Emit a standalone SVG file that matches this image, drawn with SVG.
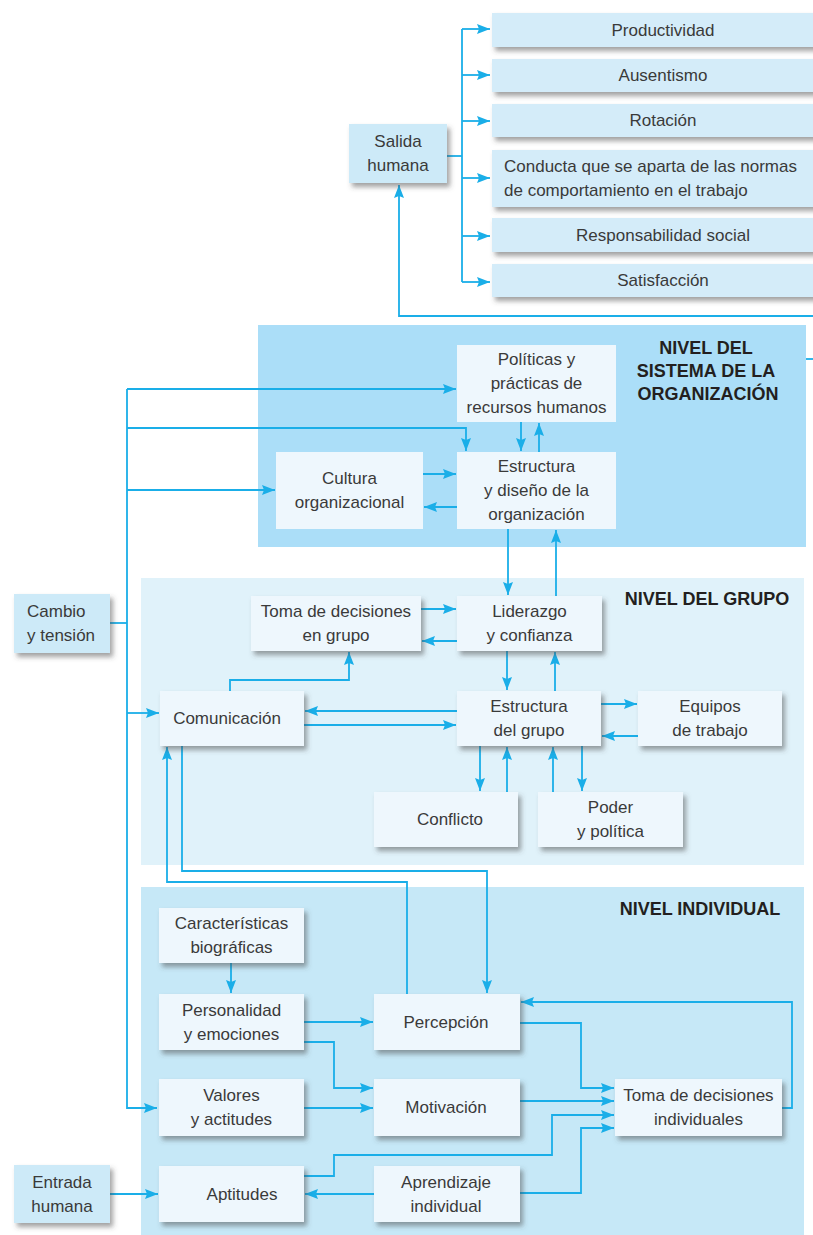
<svg xmlns="http://www.w3.org/2000/svg" width="813" height="1235" viewBox="0 0 813 1235">
<style>
.t{font-family:"Liberation Sans",Arial,sans-serif;font-size:17px;fill:#3a3a3a;text-anchor:middle;dominant-baseline:central}
.tl{text-anchor:start}
.h{font-family:"Liberation Sans",Arial,sans-serif;font-size:18px;font-weight:bold;fill:#231f20;text-anchor:middle;dominant-baseline:central}
.c path,.c line{fill:none;stroke:#1aaee8;stroke-width:1.8}
.a{marker-end:url(#ar)}
.nb{fill:#eef7fd;filter:url(#sh)}
.nf{fill:#eef7fd}
.ob{fill:#d4ecf9;filter:url(#sh)}
.sb{fill:#cdeaf8;filter:url(#sh)}
</style>
<defs>
<marker id="ar" viewBox="0 0 13 10" refX="13" refY="5" markerWidth="13" markerHeight="10" markerUnits="userSpaceOnUse" orient="auto">
<path d="M0,0 L13,5 L0,10 L2,5 Z" fill="#1aaee8"/>
</marker>
<filter id="sh" x="-10%" y="-20%" width="130%" height="160%">
<feDropShadow dx="3" dy="4" stdDeviation="2.5" flood-color="#444" flood-opacity="0.5"/>
</filter>
</defs>
<rect width="813" height="1235" fill="#ffffff"/>

<g id="panels">
<rect x="258" y="325" width="548" height="222" fill="#abdef8"/>
<rect x="141" y="578" width="663" height="287" fill="#e0f2fa"/>
<rect x="141" y="887" width="663" height="348" fill="#c6e8f7"/>
<text class="h" x="706" y="348">NIVEL DEL</text>
<text class="h" x="706" y="371">SISTEMA DE LA</text>
<text class="h" x="708" y="394">ORGANIZACIÓN</text>
<text class="h" x="707" y="599">NIVEL DEL GRUPO</text>
<text class="h" x="700" y="909">NIVEL INDIVIDUAL</text>
</g>

<g class="c" id="connectors">
<line x1="447" y1="156" x2="462" y2="156"/>
<line x1="462" y1="29" x2="462" y2="282"/>
<line class="a" x1="462" y1="29" x2="490" y2="29"/>
<line class="a" x1="462" y1="75" x2="490" y2="75"/>
<line class="a" x1="462" y1="121" x2="490" y2="121"/>
<line class="a" x1="462" y1="178" x2="490" y2="178"/>
<line class="a" x1="462" y1="236" x2="490" y2="236"/>
<line class="a" x1="462" y1="282" x2="490" y2="282"/>
<path class="a" d="M813,316 H399 V185"/>
<line x1="806" y1="359" x2="813" y2="359"/>

<path class="a" d="M127,389 V1108 H157"/>
<line class="a" x1="127" y1="389" x2="456" y2="389"/>
<path class="a" d="M127,428 H466 V451"/>
<line class="a" x1="127" y1="490" x2="275" y2="490"/>
<line class="a" x1="423" y1="474" x2="456" y2="474"/>
<line class="a" x1="457" y1="507" x2="424" y2="507"/>
<line class="a" x1="521" y1="422" x2="521" y2="451"/>
<line class="a" x1="539" y1="452" x2="539" y2="423"/>
<line class="a" x1="508" y1="529" x2="508" y2="595"/>
<line class="a" x1="556" y1="596" x2="556" y2="530"/>

<line x1="110" y1="623" x2="127" y2="623"/>
<line class="a" x1="127" y1="713" x2="159" y2="713"/>
<line class="a" x1="421" y1="609" x2="456" y2="609"/>
<line class="a" x1="457" y1="641" x2="422" y2="641"/>
<path class="a" d="M230,691 V680 H349 V652"/>
<line class="a" x1="457" y1="711" x2="305" y2="711"/>
<line class="a" x1="304" y1="725" x2="456" y2="725"/>
<line class="a" x1="507" y1="651" x2="507" y2="690"/>
<line class="a" x1="555" y1="691" x2="555" y2="652"/>
<line class="a" x1="601" y1="704" x2="637" y2="704"/>
<line class="a" x1="638" y1="736" x2="602" y2="736"/>
<line class="a" x1="480" y1="746" x2="480" y2="791"/>
<line class="a" x1="507" y1="792" x2="507" y2="747"/>
<line class="a" x1="553" y1="792" x2="553" y2="747"/>
<line class="a" x1="582" y1="746" x2="582" y2="791"/>
<path class="a" d="M182,746 V871 H487 V993"/>
<path class="a" d="M407,994 V882 H167 V747"/>

<line class="a" x1="231" y1="963" x2="231" y2="993"/>
<line class="a" x1="304" y1="1022" x2="373" y2="1022"/>
<path class="a" d="M304,1042 H334 V1088 H373"/>
<line class="a" x1="304" y1="1108" x2="373" y2="1108"/>
<line class="a" x1="110" y1="1194" x2="158" y2="1194"/>
<line class="a" x1="374" y1="1194" x2="305" y2="1194"/>
<path class="a" d="M304,1176 H334 V1155 H552 V1115 H614"/>
<path class="a" d="M520,1023 H581 V1088 H614"/>
<line class="a" x1="520" y1="1101" x2="614" y2="1101"/>
<path class="a" d="M520,1193 H581 V1128 H614"/>
<path class="a" d="M782,1108 H792 V1002 H521"/>
</g>

<g id="productividad"><rect class="ob" x="492" y="13" width="342" height="34"/><text class="t" x="663" y="30">Productividad</text></g>
<g id="ausentismo"><rect class="ob" x="492" y="59" width="342" height="33"/><text class="t" x="663" y="75.5">Ausentismo</text></g>
<g id="rotacion"><rect class="ob" x="492" y="104" width="342" height="33"/><text class="t" x="663" y="120.5">Rotación</text></g>
<g id="conducta"><rect class="ob" x="492" y="150" width="342" height="57"/><text class="t tl" x="504" y="166.5">Conducta que se aparta de las normas</text><text class="t tl" x="504" y="190.5">de comportamiento en el trabajo</text></g>
<g id="responsabilidad"><rect class="ob" x="492" y="218" width="342" height="34"/><text class="t" x="663" y="235">Responsabilidad social</text></g>
<g id="satisfaccion"><rect class="ob" x="492" y="264" width="342" height="33"/><text class="t" x="663" y="280.5">Satisfacción</text></g>
<g id="salida"><rect class="sb" x="349" y="124" width="98" height="59"/><text class="t" x="398" y="141.5">Salida</text><text class="t" x="398" y="165.5">humana</text></g>

<g id="politicas"><rect class="nf" x="457" y="345" width="159" height="77"/><text class="t" x="536.5" y="359.5">Políticas y</text><text class="t" x="536.5" y="383.5">prácticas de</text><text class="t" x="536.5" y="407.5">recursos humanos</text></g>
<g id="cultura"><rect class="nf" x="276" y="452" width="147" height="77"/><text class="t" x="349.5" y="478.5">Cultura</text><text class="t" x="349.5" y="502.5">organizacional</text></g>
<g id="estructura-org"><rect class="nf" x="457" y="452" width="159" height="77"/><text class="t" x="536.5" y="466.5">Estructura</text><text class="t" x="536.5" y="490.5">y diseño de la</text><text class="t" x="536.5" y="514.5">organización</text></g>

<g id="cambio"><rect class="sb" x="14" y="594" width="96" height="59"/><text class="t tl" x="27" y="611.5">Cambio</text><text class="t tl" x="27" y="635.5">y tensión</text></g>
<g id="toma-grupo"><rect class="nb" x="251" y="596" width="170" height="55"/><text class="t" x="336" y="611.5">Toma de decisiones</text><text class="t" x="336" y="635.5">en grupo</text></g>
<g id="liderazgo"><rect class="nb" x="457" y="596" width="145" height="55"/><text class="t" x="529.5" y="611.5">Liderazgo</text><text class="t" x="529.5" y="635.5">y confianza</text></g>
<g id="comunicacion"><rect class="nb" x="160" y="691" width="144" height="55"/><text class="t" x="227" y="718.5">Comunicación</text></g>
<g id="estructura-grupo"><rect class="nb" x="457" y="691" width="144" height="55"/><text class="t" x="529" y="706.5">Estructura</text><text class="t" x="529" y="730.5">del grupo</text></g>
<g id="equipos"><rect class="nb" x="638" y="691" width="144" height="55"/><text class="t" x="710" y="706.5">Equipos</text><text class="t" x="710" y="730.5">de trabajo</text></g>
<g id="conflicto"><rect class="nb" x="374" y="792" width="144" height="55"/><text class="t" x="450" y="819.5">Conflicto</text></g>
<g id="poder"><rect class="nb" x="538" y="792" width="145" height="55"/><text class="t" x="610.5" y="807.5">Poder</text><text class="t" x="610.5" y="831.5">y política</text></g>

<g id="caracteristicas"><rect class="nb" x="159" y="908" width="145" height="55"/><text class="t" x="231.5" y="923.5">Características</text><text class="t" x="231.5" y="947.5">biográficas</text></g>
<g id="personalidad"><rect class="nb" x="159" y="994" width="145" height="56"/><text class="t" x="231.5" y="1010">Personalidad</text><text class="t" x="231.5" y="1034">y emociones</text></g>
<g id="valores"><rect class="nb" x="159" y="1079" width="145" height="57"/><text class="t" x="231.5" y="1095.5">Valores</text><text class="t" x="231.5" y="1119.5">y actitudes</text></g>
<g id="aptitudes"><rect class="nb" x="159" y="1166" width="145" height="56"/><text class="t" x="242" y="1194">Aptitudes</text></g>
<g id="entrada"><rect class="sb" x="14" y="1165" width="96" height="58"/><text class="t" x="62" y="1182">Entrada</text><text class="t" x="62" y="1206">humana</text></g>
<g id="percepcion"><rect class="nb" x="374" y="994" width="146" height="56"/><text class="t" x="446" y="1022">Percepción</text></g>
<g id="motivacion"><rect class="nb" x="374" y="1079" width="146" height="57"/><text class="t" x="446" y="1107.5">Motivación</text></g>
<g id="aprendizaje"><rect class="nb" x="374" y="1166" width="146" height="56"/><text class="t" x="446" y="1182">Aprendizaje</text><text class="t" x="446" y="1206">individual</text></g>
<g id="toma-individual"><rect class="nb" x="615" y="1079" width="167" height="57"/><text class="t" x="698.5" y="1095.5">Toma de decisiones</text><text class="t" x="698.5" y="1119.5">individuales</text></g>
</svg>
